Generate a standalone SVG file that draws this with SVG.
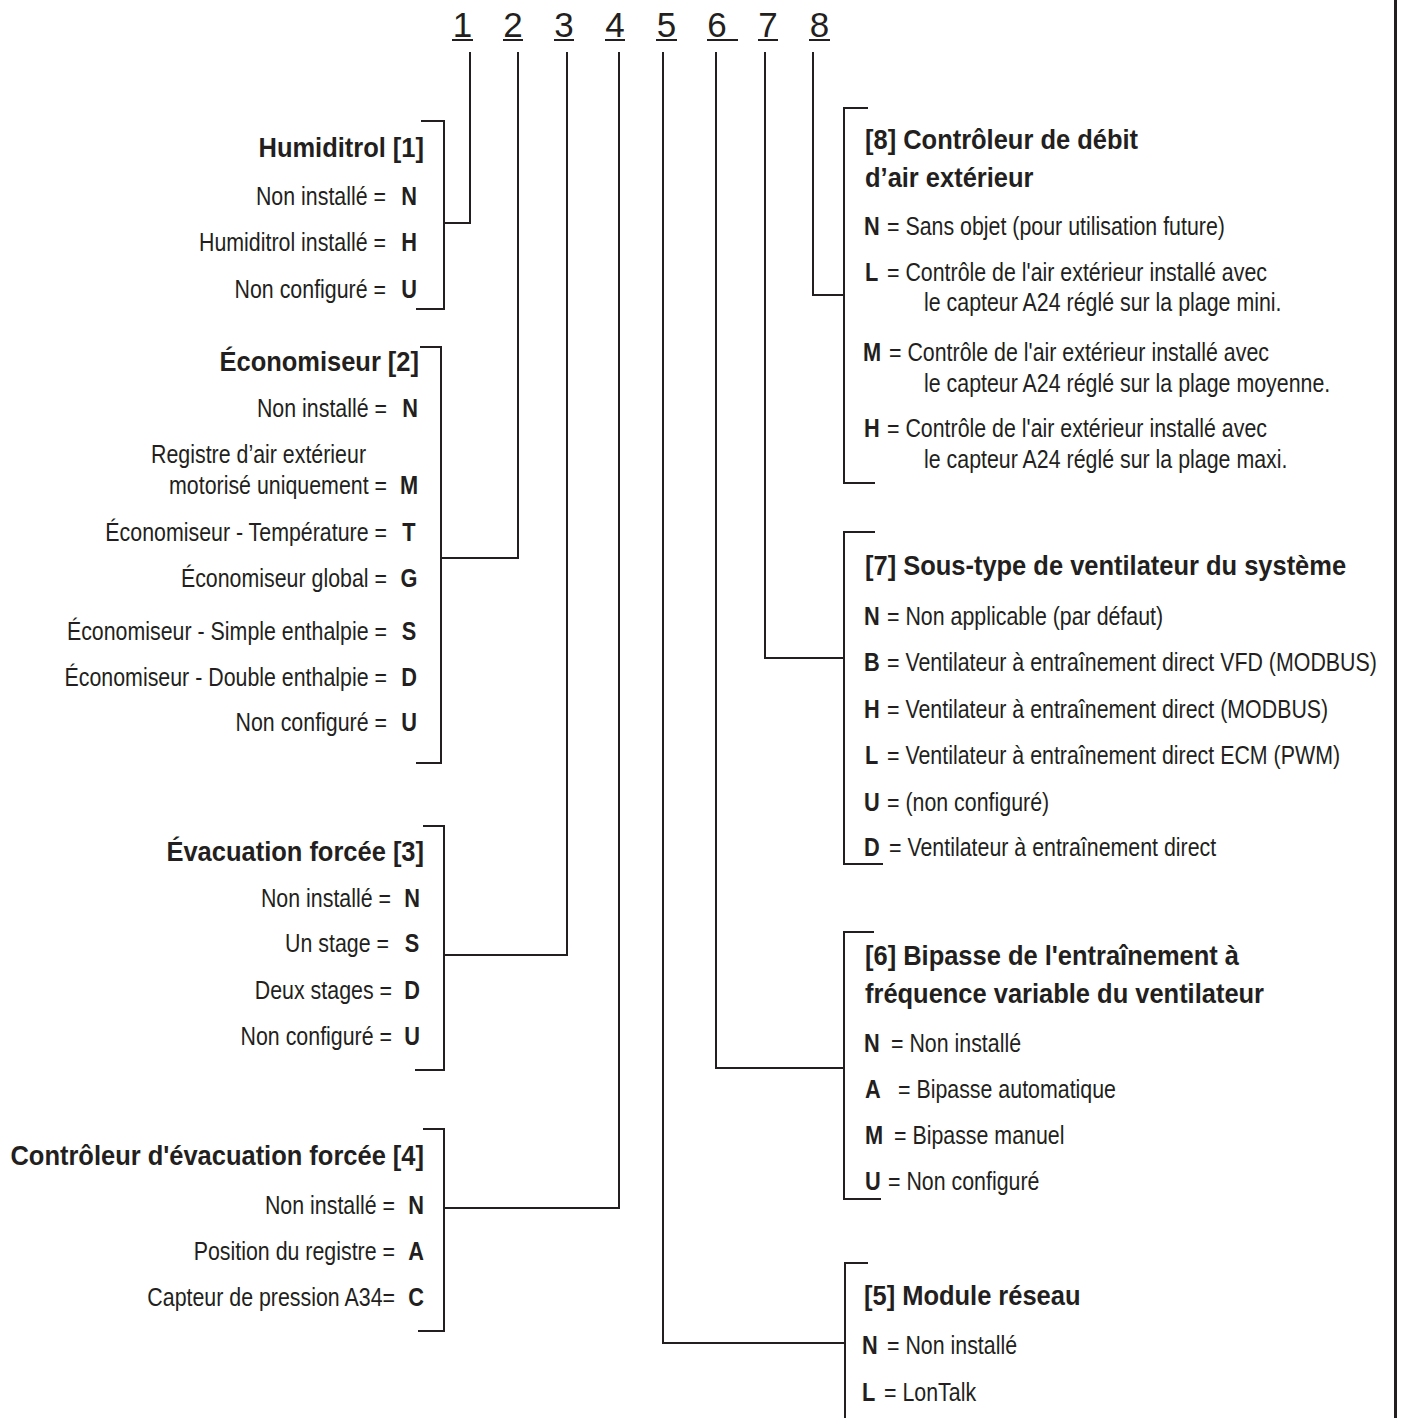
<svg xmlns="http://www.w3.org/2000/svg" width="1401" height="1418" viewBox="0 0 1401 1418">
<style>
.ln{stroke:#231f20;stroke-width:2;fill:none}
text{font-family:"Liberation Sans",Arial,Helvetica,sans-serif;fill:#231f20}
.dg{font-size:35px;text-anchor:middle}
.ti{font-size:28px;font-weight:bold}
.b{font-size:25px}
.k{font-size:25px;font-weight:bold}
.e{text-anchor:end}
.m{text-anchor:middle}
</style>
<rect x="0" y="0" width="1401" height="1418" fill="#ffffff"/>
<rect x="1394" y="0" width="3" height="1418" fill="#231f20"/>

<g id="digits">
<text class="dg" x="462.5" y="37">1</text><line class="ln" x1="452" y1="40" x2="473" y2="40"/>
<text class="dg" x="513" y="37">2</text><line class="ln" x1="503" y1="40" x2="523" y2="40"/>
<text class="dg" x="564" y="37">3</text><line class="ln" x1="554" y1="40" x2="574" y2="40"/>
<text class="dg" x="615" y="37">4</text><line class="ln" x1="605" y1="40" x2="625" y2="40"/>
<text class="dg" x="666.5" y="37">5</text><line class="ln" x1="656" y1="40" x2="677" y2="40"/>
<text class="dg" x="717" y="37">6</text><line class="ln" x1="707" y1="40" x2="738" y2="40"/>
<text class="dg" x="768" y="37">7</text><line class="ln" x1="758" y1="40" x2="778" y2="40"/>
<text class="dg" x="819.5" y="37">8</text><line class="ln" x1="809" y1="40" x2="830" y2="40"/>
</g>

<g id="connectors">
<path class="ln" d="M470,52 V223 H444"/>
<path class="ln" d="M518,52 V558 H441"/>
<path class="ln" d="M567,52 V955 H444"/>
<path class="ln" d="M619,52 V1208 H444"/>
<path class="ln" d="M663,52 V1343 H845"/>
<path class="ln" d="M716,52 V1068 H844"/>
<path class="ln" d="M765,52 V658 H844"/>
<path class="ln" d="M813,52 V295 H844"/>
</g>

<g id="node1">
<path class="ln" d="M421,121 H444 V309 H416"/>
<text class="ti e" transform="translate(424,157) scale(0.91,1)">Humiditrol [1]</text>
<text class="b e" transform="translate(386,205) scale(0.855,1)">Non installé =</text><text class="k m" transform="translate(409,205) scale(0.87,1)">N</text>
<text class="b e" transform="translate(386,251) scale(0.855,1)">Humiditrol installé =</text><text class="k m" transform="translate(409,251) scale(0.87,1)">H</text>
<text class="b e" transform="translate(386,298) scale(0.855,1)">Non configuré =</text><text class="k m" transform="translate(409,298) scale(0.87,1)">U</text>
</g>

<g id="node2">
<path class="ln" d="M420,347 H441 V763 H416"/>
<text class="ti e" transform="translate(419,371) scale(0.91,1)">Économiseur [2]</text>
<text class="b e" transform="translate(387,417) scale(0.855,1)">Non installé =</text><text class="k m" transform="translate(410,417) scale(0.87,1)">N</text>
<text class="b e" transform="translate(366,463) scale(0.855,1)">Registre d’air extérieur</text>
<text class="b e" transform="translate(387,494) scale(0.855,1)">motorisé uniquement =</text><text class="k m" transform="translate(409,494) scale(0.87,1)">M</text>
<text class="b e" transform="translate(387,541) scale(0.855,1)">Économiseur - Température =</text><text class="k m" transform="translate(409,541) scale(0.87,1)">T</text>
<text class="b e" transform="translate(387,587) scale(0.855,1)">Économiseur global =</text><text class="k m" transform="translate(409,587) scale(0.87,1)">G</text>
<text class="b e" transform="translate(387,640) scale(0.855,1)">Économiseur - Simple enthalpie =</text><text class="k m" transform="translate(409,640) scale(0.87,1)">S</text>
<text class="b e" transform="translate(387,686) scale(0.855,1)">Économiseur - Double enthalpie =</text><text class="k m" transform="translate(409,686) scale(0.87,1)">D</text>
<text class="b e" transform="translate(387,731) scale(0.855,1)">Non configuré =</text><text class="k m" transform="translate(409,731) scale(0.87,1)">U</text>
</g>

<g id="node3">
<path class="ln" d="M423,826 H444 V1070 H415"/>
<text class="ti e" transform="translate(424,861) scale(0.91,1)">Évacuation forcée [3]</text>
<text class="b e" transform="translate(391,907) scale(0.855,1)">Non installé =</text><text class="k m" transform="translate(412,907) scale(0.87,1)">N</text>
<text class="b e" transform="translate(389,952) scale(0.855,1)">Un stage =</text><text class="k m" transform="translate(412,952) scale(0.87,1)">S</text>
<text class="b e" transform="translate(392,999) scale(0.855,1)">Deux stages =</text><text class="k m" transform="translate(412,999) scale(0.87,1)">D</text>
<text class="b e" transform="translate(392,1045) scale(0.855,1)">Non configuré =</text><text class="k m" transform="translate(412,1045) scale(0.87,1)">U</text>
</g>

<g id="node4">
<path class="ln" d="M423,1129 H444 V1331 H418"/>
<text class="ti e" transform="translate(424,1165) scale(0.91,1)">Contrôleur d'évacuation forcée [4]</text>
<text class="b e" transform="translate(395,1214) scale(0.855,1)">Non installé =</text><text class="k m" transform="translate(416,1214) scale(0.87,1)">N</text>
<text class="b e" transform="translate(395,1260) scale(0.855,1)">Position du registre =</text><text class="k m" transform="translate(416,1260) scale(0.87,1)">A</text>
<text class="b e" transform="translate(395,1306) scale(0.855,1)">Capteur de pression A34=</text><text class="k m" transform="translate(416,1306) scale(0.87,1)">C</text>
</g>

<g id="node8">
<path class="ln" d="M868,108 H844 V483 H875"/>
<text class="ti" transform="translate(865,149) scale(0.91,1)">[8] Contrôleur de débit</text>
<text class="ti" transform="translate(865,187) scale(0.91,1)">d’air extérieur</text>
<text class="k" transform="translate(864,235) scale(0.87,1)">N</text><text class="b" transform="translate(887,235) scale(0.855,1)">= Sans objet (pour utilisation future)</text>
<text class="k" transform="translate(865,281) scale(0.87,1)">L</text><text class="b" transform="translate(887,281) scale(0.855,1)">= Contrôle de l'air extérieur installé avec</text>
<text class="b" transform="translate(924,311) scale(0.855,1)">le capteur A24 réglé sur la plage mini.</text>
<text class="k" transform="translate(863,361) scale(0.87,1)">M</text><text class="b" transform="translate(889,361) scale(0.855,1)">= Contrôle de l'air extérieur installé avec</text>
<text class="b" transform="translate(924,392) scale(0.855,1)">le capteur A24 réglé sur la plage moyenne.</text>
<text class="k" transform="translate(864,437) scale(0.87,1)">H</text><text class="b" transform="translate(887,437) scale(0.855,1)">= Contrôle de l'air extérieur installé avec</text>
<text class="b" transform="translate(924,468) scale(0.855,1)">le capteur A24 réglé sur la plage maxi.</text>
</g>

<g id="node7">
<path class="ln" d="M875,532 H844 V864 H883"/>
<text class="ti" transform="translate(865,575) scale(0.91,1)">[7] Sous-type de ventilateur du système</text>
<text class="k" transform="translate(864,625) scale(0.87,1)">N</text><text class="b" transform="translate(887,625) scale(0.855,1)">= Non applicable (par défaut)</text>
<text class="k" transform="translate(864,671) scale(0.87,1)">B</text><text class="b" transform="translate(887,671) scale(0.855,1)">= Ventilateur à entraînement direct VFD (MODBUS)</text>
<text class="k" transform="translate(864,718) scale(0.87,1)">H</text><text class="b" transform="translate(887,718) scale(0.855,1)">= Ventilateur à entraînement direct (MODBUS)</text>
<text class="k" transform="translate(865,764) scale(0.87,1)">L</text><text class="b" transform="translate(887,764) scale(0.855,1)">= Ventilateur à entraînement direct ECM (PWM)</text>
<text class="k" transform="translate(864,811) scale(0.87,1)">U</text><text class="b" transform="translate(887,811) scale(0.855,1)">= (non configuré)</text>
<text class="k" transform="translate(864,856) scale(0.87,1)">D</text><text class="b" transform="translate(889,856) scale(0.855,1)">= Ventilateur à entraînement direct</text>
</g>

<g id="node6">
<path class="ln" d="M874,932 H844 V1199 H881"/>
<text class="ti" transform="translate(865,965) scale(0.91,1)">[6] Bipasse de l'entraînement à</text>
<text class="ti" transform="translate(865,1003) scale(0.91,1)">fréquence variable du ventilateur</text>
<text class="k" transform="translate(864,1052) scale(0.87,1)">N</text><text class="b" transform="translate(891,1052) scale(0.855,1)">= Non installé</text>
<text class="k" transform="translate(865,1098) scale(0.87,1)">A</text><text class="b" transform="translate(898,1098) scale(0.855,1)">= Bipasse automatique</text>
<text class="k" transform="translate(865,1144) scale(0.87,1)">M</text><text class="b" transform="translate(894,1144) scale(0.855,1)">= Bipasse manuel</text>
<text class="k" transform="translate(865,1190) scale(0.87,1)">U</text><text class="b" transform="translate(888,1190) scale(0.855,1)">= Non configuré</text>
</g>

<g id="node5">
<path class="ln" d="M868,1263 H845 V1418"/>
<text class="ti" transform="translate(864,1305) scale(0.91,1)">[5] Module réseau</text>
<text class="k" transform="translate(862,1354) scale(0.87,1)">N</text><text class="b" transform="translate(887,1354) scale(0.855,1)">= Non installé</text>
<text class="k" transform="translate(862,1401) scale(0.87,1)">L</text><text class="b" transform="translate(884,1401) scale(0.855,1)">= LonTalk</text>
</g>
</svg>
